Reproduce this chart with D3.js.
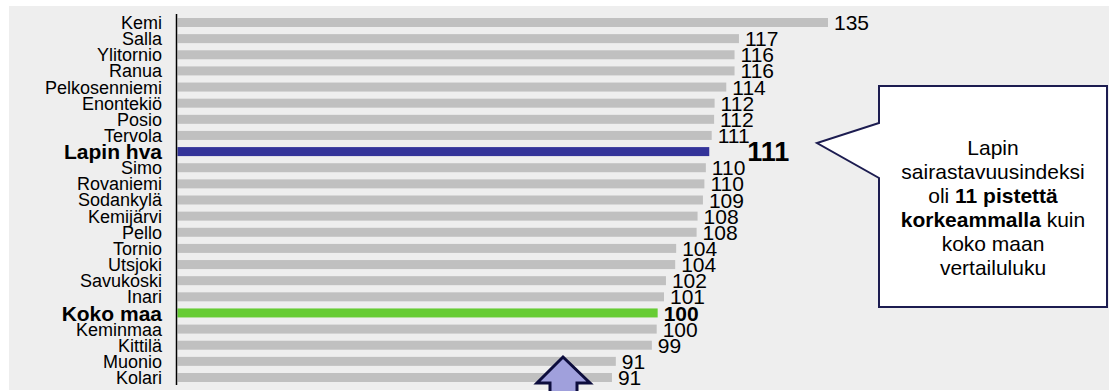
<!DOCTYPE html>
<html lang="fi">
<meta charset="utf-8">
<head>
    <script src='https://d3js.org/d3.v7.min.js'></script>
    <style>
        body { margin: 0; background: #fff; }
        text { font-family: 'Liberation Sans', Arial, sans-serif; fill: #000; }
    </style>
</head>
<body>
</body>

<script>
    var width = 1109, height = 391;

    // data (index values, top to bottom)
    var areas = ['Kemi', 'Salla', 'Ylitornio', 'Ranua', 'Pelkosenniemi', 'Enontekiö', 'Posio', 'Tervola',
        'Lapin hva', 'Simo', 'Rovaniemi', 'Sodankylä', 'Kemijärvi', 'Pello', 'Tornio', 'Utsjoki',
        'Savukoski', 'Inari', 'Koko maa', 'Keminmaa', 'Kittilä', 'Muonio', 'Kolari'];
    var values = [135.0, 116.7, 115.8, 115.8, 114.1, 111.7, 111.6, 111.1,
        110.6, 109.9, 109.6, 109.3, 108.2, 108.0, 103.8, 103.6,
        101.7, 101.3, 100.0, 99.8, 98.8, 91.4, 90.6];
    var highlight = {'Lapin hva': '#333399', 'Koko maa': '#66cc33'};
    var calloutLines = [
        [['Lapin', false]],
        [['sairastavuusindeksi', false]],
        [['oli ', false], ['11 pistettä', true]],
        [['korkeammalla', true], [' kuin', false]],
        [['koko maan', false]],
        [['vertailuluku', false]]
    ];

    var rows = areas.map(function(d, i) { return {name: d, value: values[i]}; });

    var svg = d3.select('body').append('svg').attr('width', width).attr('height', height);

    // grey panel
    svg.append('rect').attr('x', 9).attr('y', 6).attr('width', width - 9).attr('height', 384)
        .attr('fill', '#eeeeee');

    var x = d3.scaleLinear().domain([0, 135]).range([171, 828]);
    var y = d3.scalePoint().domain(areas).range([22.5, 377.5]);
    var axisX = 176.5;
    var barH = 9;

    svg.selectAll('rect.bar')
        .data(rows)
        .join('rect')
        .attr('class', 'bar')
        .attr('x', axisX + 1)
        .attr('y', function(d) { return y(d.name) - barH / 2; })
        .attr('width', function(d) { return x(d.value) - axisX - 1; })
        .attr('height', barH)
        .attr('fill', function(d) { return highlight[d.name] || '#c0c0c0'; });

    // axis line
    svg.append('line').attr('x1', axisX).attr('x2', axisX).attr('y1', 14).attr('y2', 385)
        .attr('stroke', '#000').attr('stroke-width', 1.5);

    // category labels
    svg.selectAll('text.cat')
        .data(rows)
        .join('text')
        .attr('class', 'cat')
        .attr('x', 162)
        .attr('y', function(d) { return y(d.name); })
        .attr('dy', '0.36em')
        .attr('text-anchor', 'end')
        .style('font-size', function(d) { return highlight[d.name] ? '21px' : '18px'; })
        .style('font-weight', function(d) { return highlight[d.name] ? 'bold' : 'normal'; })
        .text(function(d) { return d.name; });

    // value labels
    svg.selectAll('text.val')
        .data(rows)
        .join('text')
        .attr('class', 'val')
        .attr('x', function(d) { return x(d.value) + (d.name == 'Lapin hva' ? 38 : 6); })
        .attr('y', function(d) { return y(d.name); })
        .attr('dy', '0.36em')
        .style('font-size', function(d) { return d.name == 'Lapin hva' ? '27px' : '21px'; })
        .style('font-weight', function(d) { return highlight[d.name] ? 'bold' : 'normal'; })
        .text(function(d) { return Math.round(d.value); });

    // callout box with pointer
    svg.append('path')
        .attr('d', 'M879,86 H1107 V307 H879 V178 L817,143 L879,123 Z')
        .attr('fill', '#fff').attr('stroke', '#1c1c50').attr('stroke-width', 2);

    var ct = svg.append('text').attr('text-anchor', 'middle').style('font-size', '21px');
    calloutLines.forEach(function(line, i) {
        var t = ct.append('tspan').attr('x', 993).attr('y', 155 + i * 24);
        line.forEach(function(part) {
            t.append('tspan').style('font-weight', part[1] ? 'bold' : 'normal').text(part[0]);
        });
    });

    // up arrow at the bottom
    svg.append('path')
        .attr('d', 'M563,357 L590,383 L577,383 L577,400 L550,400 L550,383 L537,383 Z')
        .attr('fill', '#a0a0dc').attr('stroke', '#0d0d3d').attr('stroke-width', 3)
        .attr('stroke-linejoin', 'miter');

    console.log('ready..');
</script>
